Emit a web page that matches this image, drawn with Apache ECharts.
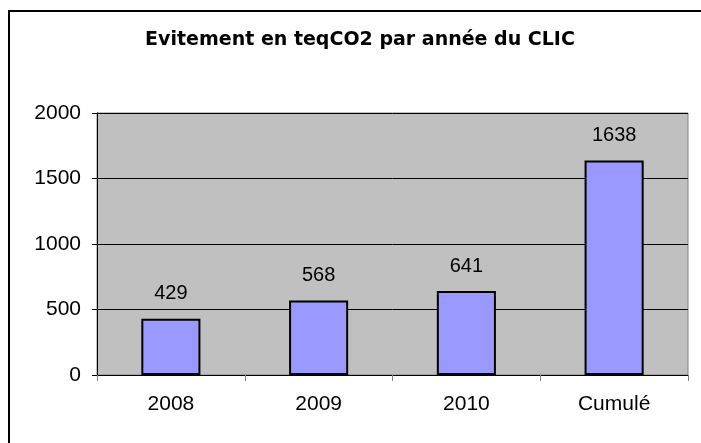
<!DOCTYPE html>
<html>
<head>
<meta charset="utf-8">
<script src="https://cdn.jsdelivr.net/npm/echarts@6/dist/echarts.min.js"></script>
<style>
html,body{margin:0;padding:0;background:#fff;}
#chart{width:701px;height:443px;}
</style>
</head>
<body>
<div id="chart"></div>
<script>
const titleText = 'Evitement en teqCO2 par année du CLIC';
const categories = ['2008', '2009', '2010', 'Cumulé'];
const values = [429, 568, 641, 1638];
const yTicks = [0, 500, 1000, 1500, 2000];

const chart = echarts.init(document.getElementById('chart'), null, {renderer: 'canvas'});
const fontFam = '"Liberation Sans", Arial, sans-serif';
chart.setOption({
  animation: false,
  backgroundColor: '#ffffff',
  title: {
    text: titleText,
    left: 355,
    top: 26,
    textAlign: 'center',
    textStyle: {fontFamily: '"DejaVu Sans", sans-serif', fontSize: 19, fontWeight: 'bold', color: '#000'}
  },
  graphic: [{
    type: 'rect',
    shape: {x: 9, y: 11, width: 740, height: 480},
    style: {fill: 'none', stroke: '#000', lineWidth: 2},
    silent: true
  }],
  grid: {
    left: 97, top: 113, right: 13, bottom: 68,
    show: true,
    backgroundColor: '#C0C0C0',
    borderColor: '#808080',
    borderWidth: 1
  },
  xAxis: {
    type: 'category',
    data: categories,
    boundaryGap: true,
    axisLine: {show: true, lineStyle: {color: '#000', width: 1}},
    axisTick: {show: true, length: 6, alignWithLabel: false, lineStyle: {color: '#808080'}},
    axisLabel: {margin: 19, fontFamily: fontFam, fontSize: 21, color: '#000'},
    splitLine: {show: false}
  },
  yAxis: {
    type: 'value',
    min: yTicks[0],
    max: yTicks[yTicks.length - 1],
    interval: yTicks[1] - yTicks[0],
    axisLine: {show: true, lineStyle: {color: '#000', width: 1}},
    axisTick: {show: true, length: 5, lineStyle: {color: '#000'}},
    axisLabel: {margin: 16, fontFamily: fontFam, fontSize: 21, color: '#000',
      formatter: function (v) { return String(v); }},
    splitLine: {show: true, lineStyle: {color: '#000', width: 1}}
  },
  series: [{
    type: 'bar',
    data: values,
    barWidth: '40%',
    itemStyle: {color: '#9999FF', borderColor: '#000', borderWidth: 2},
    label: {
      show: true,
      position: 'top',
      distance: 15,
      fontFamily: fontFam,
      fontSize: 20,
      color: '#000'
    }
  }]
});
</script>
</body>
</html>
